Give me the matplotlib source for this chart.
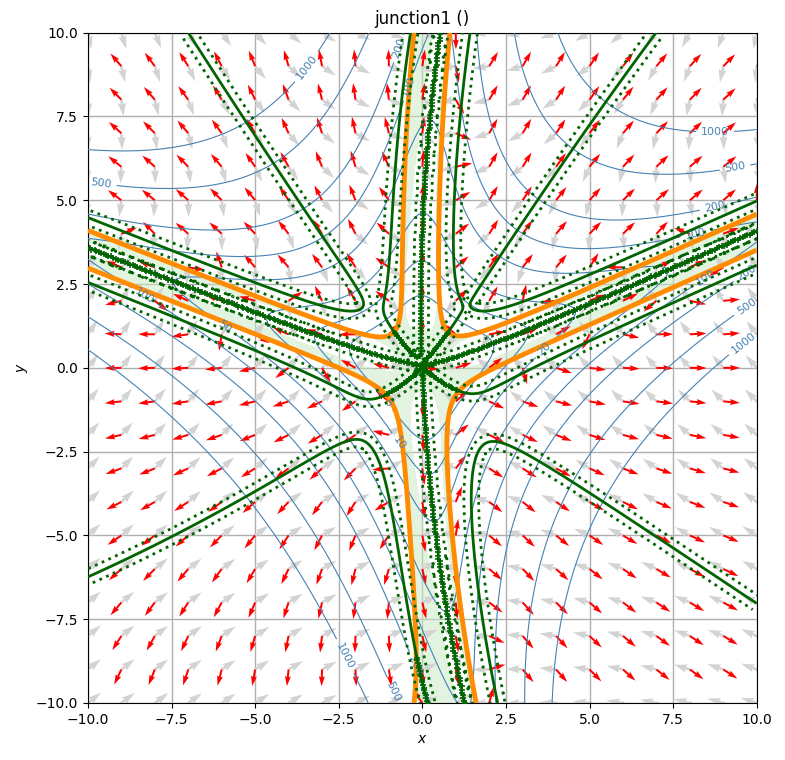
import numpy as np
import matplotlib.pyplot as plt

# bent valley lines of the junction
line_a = [0.0089, -0.0385]   # x = a0*y**2 + a1*y   (near vertical arm)
line_b = [0.025, 0.42]       # y = b0*x + b1*(sqrt(x**2+1)-1)  (near horizontal arms)
scale = 1.0
offsets = [0.9, 0.9]

levels = [5, 10, 20, 50, 100, 200, 500, 1000]
ticks = [-10, -7.5, -5, -2.5, 0, 2.5, 5, 7.5, 10]
arrow_grid = np.arange(-10, 11)


def field(x, y):
    u = x - (line_a[0]*y**2 + line_a[1]*y)
    v = y - (line_b[0]*x + line_b[1]*(np.sqrt(x**2 + 1) - 1))
    return scale*(u**2 + offsets[0])*(v**2 + offsets[1])


def derivs(x, y, h=1e-3):
    f0 = field(x, y)
    fx = (field(x+h, y) - field(x-h, y))/(2*h)
    fy = (field(x, y+h) - field(x, y-h))/(2*h)
    fxx = (field(x+h, y) - 2*f0 + field(x-h, y))/h**2
    fyy = (field(x, y+h) - 2*f0 + field(x, y-h))/h**2
    fxy = (field(x+h, y+h) - field(x+h, y-h) - field(x-h, y+h) + field(x-h, y-h))/(4*h**2)
    return f0, fx, fy, fxx, fyy, fxy


# fine grid for the contours
xs = np.linspace(-10, 10, 401)
X, Y = np.meshgrid(xs, xs)
F, Fx, Fy, Fxx, Fyy, Fxy = derivs(X, Y)
det = Fxx*Fyy - Fxy**2
hgx = Fxx*Fx + Fxy*Fy
hgy = Fxy*Fx + Fyy*Fy
ridge = (Fx*hgy - Fy*hgx)/(np.hypot(Fx, Fy)*np.hypot(hgx, hgy) + 1e-12)

fig, ax = plt.subplots(figsize=(7.85, 7.6), dpi=100)
fig.subplots_adjust(left=0.112, right=0.964, top=0.957, bottom=0.075)

# light green band near valleys
band = np.where((det > 0) & (Fxx + Fyy > 0), np.abs(ridge), np.nan)
ax.contourf(X, Y, band, levels=[0, 0.35], colors=['#c7e9c0'], alpha=0.5)

# arrows
AX, AY = np.meshgrid(arrow_grid, arrow_grid)
_, gx, gy, gxx, gyy, gxy = derivs(AX.astype(float), AY.astype(float))
gn = np.hypot(gx, gy)
ax.quiver(AX, AY, -gx/gn, -gy/gn, color='lightgray', pivot='tail',
          angles='xy', scale_units='xy', scale=2, width=0.004, zorder=2)
d = gxx*gyy - gxy**2
nx = (gyy*gx - gxy*gy)/d
ny = (gxx*gy - gxy*gx)/d
nn = np.hypot(nx, ny)
ax.quiver(AX, AY, nx/nn, ny/nn, color='red', pivot='tail',
          angles='xy', scale_units='xy', scale=2, width=0.003, zorder=3)

# level lines
cs = ax.contour(X, Y, F, levels=levels, colors='steelblue', linewidths=0.8, zorder=4)
ax.clabel(cs, fontsize=8, fmt='%d')

# orange: zero Hessian determinant
ax.contour(X, Y, det, levels=[0], colors='darkorange', linewidths=3.5, zorder=5)

# green: gradient is an eigenvector of the Hessian, dotted copies either side
gc = ax.contour(X, Y, ridge, levels=[0], colors='darkgreen', linewidths=2, zorder=6)
for seg in gc.allsegs[0]:
    if len(seg) < 5:
        continue
    tx, ty = np.gradient(seg[:, 0]), np.gradient(seg[:, 1])
    tn = np.hypot(tx, ty) + 1e-12
    for side in (-0.22, 0.22):
        ax.plot(seg[:, 0] - side*ty/tn, seg[:, 1] + side*tx/tn, ':',
                color='darkgreen', lw=2, zorder=6)
    ix = np.clip(np.round((seg[:, 0] + 10)/0.05).astype(int), 0, 400)
    iy = np.clip(np.round((seg[:, 1] + 10)/0.05).astype(int), 0, 400)
    keep = det[iy, ix] > 0
    pts = seg[keep][::2]
    if len(pts):
        ax.plot(pts[:, 0], pts[:, 1], '+', color='darkgreen', ms=4, mew=1.2, zorder=6)

ax.set_xlim(-10, 10)
ax.set_ylim(-10, 10)
ax.set_xticks(ticks)
ax.set_yticks(ticks)
ax.grid(True, color='#b0b0b0', linewidth=1)
ax.set_axisbelow(True)
ax.set_xlabel('$x$')
ax.set_ylabel('$y$')
ax.set_title('junction1 ()')
fig.savefig('out.png')
